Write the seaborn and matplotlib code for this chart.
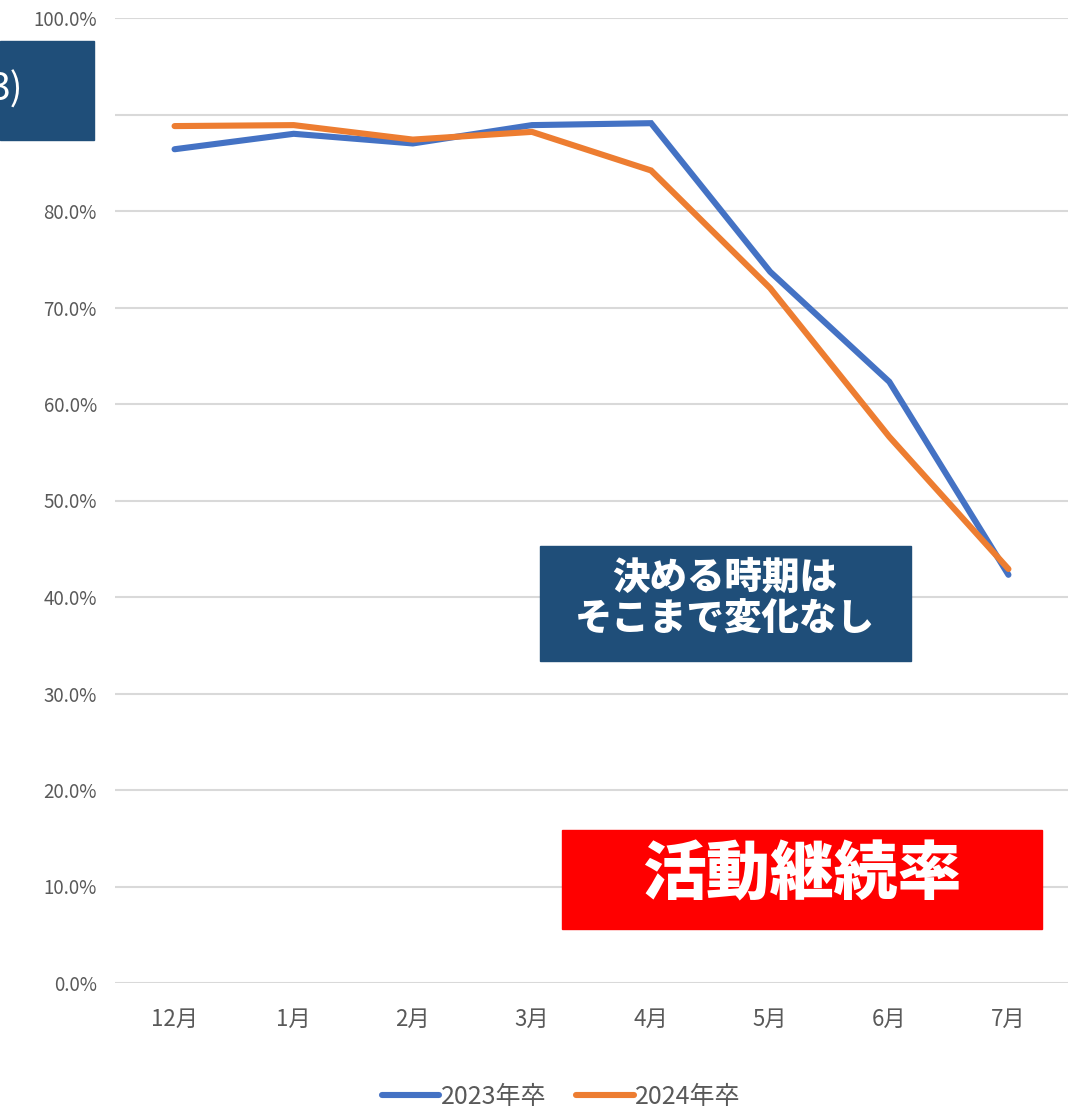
import matplotlib
matplotlib.use("Agg")
import matplotlib.pyplot as plt
import seaborn as sns
import pandas as pd
from matplotlib.patches import Rectangle
from matplotlib.lines import Line2D

months = ["12月", "1月", "2月", "3月", "4月", "5月", "6月", "7月"]
rate_2023 = [86.4, 88.0, 87.0, 88.9, 89.1, 73.7, 62.3, 42.3]
rate_2024 = [88.8, 88.9, 87.4, 88.2, 84.2, 72.0, 56.6, 42.9]
series_names = ["2023年卒", "2024年卒"]
yticks = [0, 10, 20, 30, 40, 50, 60, 70, 80, 90, 100]
ytick_labels = ["0.0%", "10.0%", "20.0%", "30.0%", "40.0%", "50.0%", "60.0%", "70.0%", "80.0%", "", "100.0%"]

sns.set_theme(style="white")
plt.rcParams['font.family'] = ['Noto Sans CJK JP', 'DejaVu Sans']

df = pd.DataFrame({
    "month": months * 2,
    "rate": rate_2023 + rate_2024,
    "series": [series_names[0]] * len(months) + [series_names[1]] * len(months),
})

fig = plt.figure(figsize=(10.79, 11.11), dpi=100)
ax = fig.add_axes([115/1079, 1-983/1111, (1068-115)/1079, (983-18)/1111])

palette = {"2023年卒": "#4472C4", "2024年卒": "#ED7D31"}
sns.lineplot(data=df, x="month", y="rate", hue="series", palette=palette,
             linewidth=4.4, ax=ax, sort=False, legend=False,
             solid_capstyle="round", solid_joinstyle="miter")

ax.set_xlim(-0.5, len(months) - 0.5)
ax.set_ylim(0, 100)
ax.set_yticks(yticks)
ax.set_yticklabels(ytick_labels)
ax.set_xlabel("")
ax.set_ylabel("")
ax.grid(axis="y", color="#D9D9D9", linewidth=1.5)
ax.set_axisbelow(True)
for s in ax.spines.values():
    s.set_visible(False)
ax.tick_params(axis="y", length=0, colors="#595959", labelsize=13.5, pad=13)
ax.tick_params(axis="x", length=0, colors="#595959", labelsize=16, pad=18)

# Legend
handles = [Line2D([0], [0], color=palette[n], linewidth=4.4, solid_capstyle="round") for n in series_names]
fig.legend(handles, series_names, loc="center", bbox_to_anchor=(0.52, 1 - 1097/1111),
           ncol=2, frameon=False, fontsize=18, handlelength=2.3, handletextpad=0.05,
           columnspacing=1.2, labelcolor="#595959")

# Boxes
def px_rect(x0, y0, x1, y1, color):
    fig.patches.append(Rectangle((x0/1079, 1 - y1/1111), (x1-x0)/1079, (y1-y0)/1111,
                                 transform=fig.transFigure, color=color, zorder=5))

px_rect(0, 41, 94, 140, "#1F4E79")
fig.text(23/1079, 1 - 90/1111, "3)", color="white", fontsize=27, ha="right", va="center", zorder=6)

px_rect(540, 546, 911, 661, "#1F4E79")
fig.text(725/1079, 1 - 599/1111, "決める時期は\nそこまで変化なし", color="white", fontsize=27,
         fontweight="heavy", ha="center", va="center", linespacing=1.12, zorder=6)

px_rect(562, 830, 1042, 929, "#FF0000")
fig.text(802/1079, 1 - 876/1111, "活動継続率", color="white", fontsize=46,
         fontweight="heavy", ha="center", va="center", zorder=6)

fig.savefig("out.png", dpi=100)
